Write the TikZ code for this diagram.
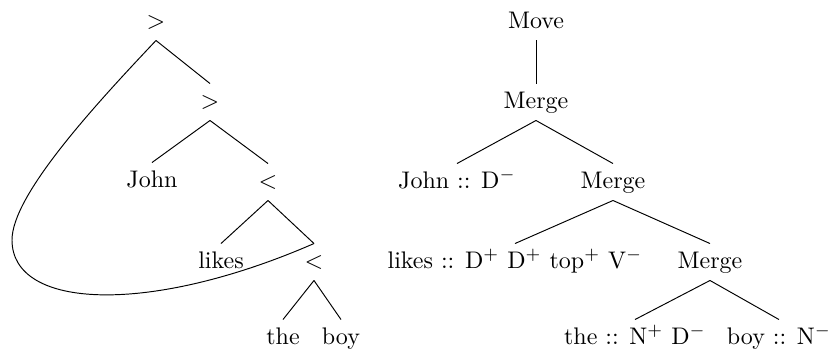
\documentclass[tikz,border=0pt]{standalone}
\begin{document}
\begin{tikzpicture}[x=0.41667pt,y=-0.41667pt,
  lbl/.style={inner sep=3pt,text height=7pt,text depth=2pt},
  branch/.style={line width=0.4pt}]
\useasboundingbox (0,0) rectangle (834,351);
% left tree
\node[lbl] (g1) at (156,22) {$>$};
\node[lbl] (g2) at (210,102) {$>$};
\node[lbl] (john) at (152,181) {John};
\node[lbl] (l1) at (268,182) {$<$};
\node[lbl] (likes) at (221,262) {likes};
\node[lbl] (l2) at (314,262) {$<$};
\node[lbl] (the) at (283,338) {the};
\node[lbl] (boy) at (341,338) {boy};
\draw[branch] (g1.south) -- (g2.north);
\draw[branch] (g2.south) -- (john.north);
\draw[branch] (g2.south) -- (l1.north);
\draw[branch] (l1.south) -- (likes.north);
\draw[branch] (l1.south) -- (l2.north);
\draw[branch] (l2.south) -- (the.north);
\draw[branch] (l2.south) -- (boy.north);
\coordinate (loop) at (12,240);
\draw[branch] (g1.south) .. controls (95,105) and (12,195) .. (loop)
  .. controls (12,310) and (150,315) .. (l2.north);
% right tree
\node[lbl] (move) at (536,22) {Move};
\node[lbl] (m1) at (536,102) {Merge};
\node[lbl] (johnD) at (457,182) {John :: D$^-$};
\node[lbl] (m2) at (613,182) {Merge};
\node[lbl] (likesD) at (515,262) {likes :: D$^+$ D$^+$ top$^+$ V$^-$};
\node[lbl] (m3) at (710,262) {Merge};
\node[lbl] (theD) at (635,338) {the :: N$^+$ D$^-$};
\node[lbl] (boyD) at (779,338) {boy :: N$^-$};
\draw[branch] (move.south) -- (m1.north);
\draw[branch] (m1.south) -- (johnD.north);
\draw[branch] (m1.south) -- (m2.north);
\draw[branch] (m2.south) -- (likesD.north);
\draw[branch] (m2.south) -- (m3.north);
\draw[branch] (m3.south) -- (theD.north);
\draw[branch] (m3.south) -- (boyD.north);
\end{tikzpicture}
\end{document}
